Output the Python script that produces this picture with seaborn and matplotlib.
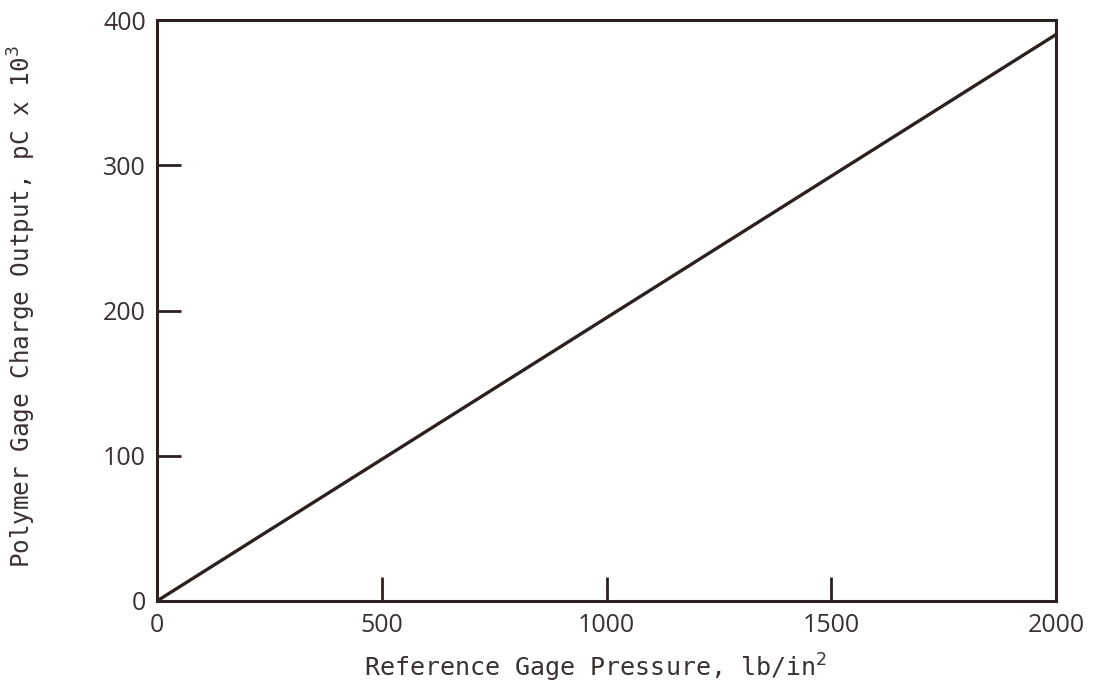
import matplotlib
matplotlib.use("Agg")
import matplotlib.pyplot as plt
import seaborn as sns
import pandas as pd

pressure = [0, 500, 1000, 1500, 2000]
charge = [0, 97.5, 195, 292.5, 390]
x_ticks = [0, 500, 1000, 1500, 2000]
y_ticks = [0, 100, 200, 300, 400]

sns.set_theme(style="white")
plt.rcParams['font.family'] = ['DejaVu Sans']

ink = "#2b211e"
text_col = "#3a3230"

fig = plt.figure(figsize=(10.99, 6.94), dpi=100)
ax = fig.add_axes([157/1099, 93/694, (1056-157)/1099, (601-20)/694])

df = pd.DataFrame({"p": pressure, "q": charge})
sns.lineplot(data=df, x="p", y="q", ax=ax, color=ink, linewidth=2.4)

ax.set_xlim(0, 2000)
ax.set_ylim(0, 400)
ax.set_xticks(x_ticks)
ax.set_yticks(y_ticks)
ax.set_xticklabels([str(v) for v in x_ticks], fontsize=18, color=text_col, family="Open Sans")
ax.set_yticklabels([str(v) for v in y_ticks], fontsize=18, color=text_col, family="Open Sans")
ax.tick_params(axis="both", direction="in", length=17, width=2, color=ink,
               bottom=True, left=True, top=False, right=False)
ax.tick_params(axis="x", pad=9)
ax.tick_params(axis="y", pad=8)
for s in ax.spines.values():
    s.set_color(ink)
    s.set_linewidth(2.2)
    s.set_visible(True)

ax.set_xlabel("Reference Gage Pressure, lb/in$^2$", fontsize=18, color=text_col,
              family="DejaVu Sans Mono")
ax.set_ylabel("Polymer Gage Charge Output, pC x 10$^3$", fontsize=17.5, color=text_col,
              family="DejaVu Sans Mono")
ax.xaxis.set_label_coords(596/1099, 1 - 668/694, transform=fig.transFigure)
ax.yaxis.set_label_coords(22/1099, 1 - 307/694, transform=fig.transFigure)
ax.xaxis.label.set_verticalalignment("center")
ax.yaxis.label.set_verticalalignment("center")
ax.grid(False)

fig.savefig("out.png", dpi=100, facecolor="white")
